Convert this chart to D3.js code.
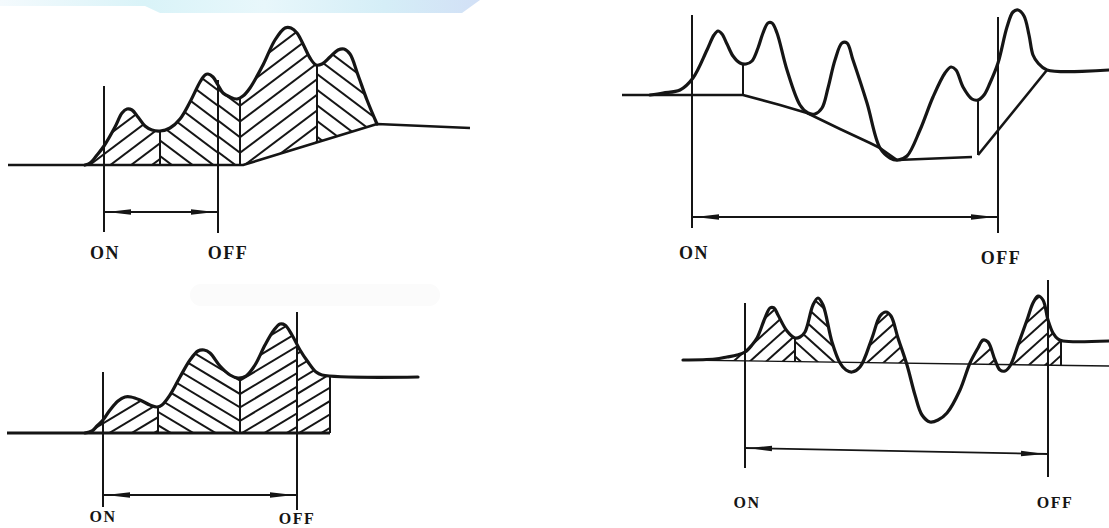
<!DOCTYPE html>
<html>
<head>
<meta charset="utf-8">
<script src="https://cdn.jsdelivr.net/npm/d3@7"></script>
<style>
    body { margin: 0; background: #fff; }
    svg { display: block; }
    .lbl { font-family: "Liberation Serif", "DejaVu Serif", serif; font-weight: bold; fill: #151515; }
</style>
</head>
<body>
<div id="chart"></div>
<script>
"use strict";
(function () {
    // t = time along the trace, v = signal height above the panel floor
    // panel 1: hatched peaks, baseline lifted at the end
    const p1Signal = [[85,0],[90,2],[97,10],[104,19],[115,38],[122,52],[127,56],[132,55],[138,48],[145,39],[152,35],[160,34],[170,37],[180,46],[190,63],[200,83],[205,90],[208,91],[213,88],[218,80],[223,72],[230,68],[237,66],[243,69],[250,77],[263,100],[275,125],[285,137],[291,137],[297,132],[304,119],[310,107],[316,100],[322,101],[330,108],[338,115],[344,116],[350,111],[358,90],[367,65],[377,41]]
    const p1Base = [[8,0],[243,0],[377,41],[470,37]]
    const p1Cuts = [160, 240, 317]
    const p1Gates = [104, 218]
    const p1Hatch = [[85,160,1],[160,218,-1],[218,240,-1],[240,317,1],[317,380,-1]]

    // panel 2: tangent skims, no hatching
    const p2Signal = [[50,0],[63,2],[80,5],[93,17],[107,45],[114,60],[118,64],[122,61],[127,51],[133,39],[140,32],[146,31],[152,34],[158,47],[163,62],[168,72],[172,72],[177,62],[187,25],[200,-10],[208,-18],[215,-19],[222,-13],[228,7],[235,35],[242,52],[247,52],[253,35],[267,-8],[280,-53],[290,-63],[298,-65],[307,-61],[320,-35],[333,-2],[345,22],[351,28],[356,25],[363,8],[372,-4],[378,-5],[384,0],[390,12],[398,32],[407,68],[413,83],[418,85],[424,79],[429,60],[433,40],[438,32],[447,25],[509,25]]
    const p2Base = [[22,0],[143,0],[180,-10],[207,-18],[240,-34],[270,-48],[280,-53],[297,-65],[372,-62]]
    const p2Skim = [[378,-60],[447,25]]
    const p2Cuts = [143, 378]
    const p2Gates = [92, 398]
    const p2Hatch = []

    // panel 3: flat baseline, area closed after OFF
    const p3Signal = [[85,0],[92,2],[97,7],[103,13],[110,23],[118,32],[125,36],[131,36],[140,33],[150,28],[157,26],[162,28],[170,38],[180,56],[190,73],[198,82],[204,83],[210,80],[220,67],[230,58],[238,55],[246,57],[255,68],[265,88],[274,103],[280,109],[285,108],[292,98],[300,83],[308,71],[316,61],[322,58],[418,56]]
    const p3Base = [[7,0],[330,0]]
    const p3Cuts = [158, 240, 330]
    const p3Gates = [103, 297]
    const p3Hatch = [[85,158,1],[158,240,-1],[240,297,1],[297,330,1]]

    // panel 4: negative dips left unshaded
    const p4Signal = [[83,0],[115,1],[127,3],[137,5],[145,8],[152,15],[157,22],[165,42],[170,52],[174,52],[178,45],[187,29],[195,22],[200,23],[205,28],[213,55],[218,62],[223,55],[232,18],[240,-3],[246,-10],[252,-12],[260,-7],[272,22],[280,44],[286,48],[291,44],[298,22],[307,-5],[315,-35],[322,-55],[330,-62],[338,-60],[347,-53],[360,-30],[370,-3],[378,12],[383,20],[388,18],[395,0],[400,-10],[405,-11],[410,-6],[418,15],[427,40],[433,57],[438,64],[443,60],[448,40],[453,27],[458,21],[463,19],[509,19]]
    const p4Base = [[83,0],[509,-6]]
    const p4Cuts = [195, 461]
    const p4Gates = [145, 448]
    const p4Hatch = [[127,195,1],[195,240,-1],[262,307,1],[370,396,1],[410,448,1],[448,461,1]]

    const gateLabels = ["ON", "OFF"]

    const panels = [
        { id: "p1", left: 0, floor: 165, signal: p1Signal, bases: [p1Base], baseW: 2.6, cuts: p1Cuts, gates: p1Gates, hatch: p1Hatch,
          angle: 37, gap: 12.5, gateTop: [86, 80], gateBot: [232, 233], arrowY: [212, 212], labelX: [105, 228], labelY: [259, 259], font: 18 },
        { id: "p2", left: 600, floor: 95, signal: p2Signal, bases: [p2Base, p2Skim], baseW: 2.6, cuts: p2Cuts, gates: p2Gates, hatch: p2Hatch,
          angle: 37, gap: 12, gateTop: [15, 17], gateBot: [228, 233], arrowY: [217, 217], labelX: [694, 1001], labelY: [259, 264], font: 18 },
        { id: "p3", left: 0, floor: 433, signal: p3Signal, bases: [p3Base], baseW: 3, cuts: p3Cuts, gates: p3Gates, hatch: p3Hatch,
          angle: 31, gap: 11.5, gateTop: [372, 312], gateBot: [507, 510], arrowY: [495, 495], labelX: [103, 297], labelY: [522, 524], font: 16 },
        { id: "p4", left: 600, floor: 360, signal: p4Signal, bases: [p4Base], baseW: 1.4, cuts: p4Cuts, gates: p4Gates, hatch: p4Hatch,
          angle: 42, gap: 11, gateTop: [303, 280], gateBot: [468, 477], arrowY: [448, 454], labelX: [747, 1055], labelY: [508, 508], font: 16 }
    ]

    const ink = "#151515"
    const svg = d3.select("#chart").append("svg")
        .attr("width", 1109)
        .attr("height", 528)
    const defs = svg.append("defs")

    // faint scan watermark along the top edge
    const grad = defs.append("linearGradient").attr("id", "wm")
    grad.append("stop").attr("offset", "0").attr("stop-color", "#f4fafd")
    grad.append("stop").attr("offset", "0.3").attr("stop-color", "#d9f3f8")
    grad.append("stop").attr("offset", "0.55").attr("stop-color", "#e8f7fb")
    grad.append("stop").attr("offset", "0.8").attr("stop-color", "#d5eef7")
    grad.append("stop").attr("offset", "1").attr("stop-color", "#d2e0f6")
    svg.append("path")
        .attr("d", "M0,0L480,0L462,13L160,13L145,6L0,6Z")
        .attr("fill", "url(#wm)")
    svg.append("rect")
        .attr("x", 190).attr("y", 284).attr("width", 250).attr("height", 22).attr("rx", 11)
        .attr("fill", "#fbfbfb")

    function yOnPath(node, x) {
        let lo = 0, hi = node.getTotalLength()
        for (let i = 0; i < 28; i++) {
            const mid = (lo + hi) / 2
            if (node.getPointAtLength(mid).x < x) lo = mid; else hi = mid
        }
        return node.getPointAtLength(lo).y
    }

    panels.forEach(p => {
        const x = d3.scaleLinear().domain([0, 509]).range([p.left, p.left + 509])
        const y = d3.scaleLinear().domain([0, 200]).range([p.floor, p.floor - 200])
        const g = svg.append("g")

        const smooth = d3.line().x(d => x(d[0])).y(d => y(d[1])).curve(d3.curveCatmullRom.alpha(0.5))
        const straight = d3.line().x(d => x(d[0])).y(d => y(d[1]))

        // baselines first, hatch above, trace on top
        const baseNodes = p.bases.map(b => {
            const node = g.append("path")
                .attr("d", straight(b))
                .attr("fill", "none")
                .attr("stroke", ink)
                .attr("stroke-width", p.baseW)
                .attr("stroke-linejoin", "round")
                .node()
            return { node: node, x0: x(b[0][0]), x1: x(b[b.length - 1][0]) }
        })
        const baseAt = function (px) {
            let hit = baseNodes.find(b => px >= b.x0 - 0.5 && px <= b.x1 + 0.5)
            if (!hit) hit = px < baseNodes[0].x0 ? baseNodes[0] : baseNodes[baseNodes.length - 1]
            return yOnPath(hit.node, Math.min(Math.max(px, hit.x0), hit.x1))
        }

        const sigD = smooth(p.signal)
        const s0 = x(p.signal[0][0]), s1 = x(p.signal[p.signal.length - 1][0])
        const under = defs.append("clipPath").attr("id", p.id + "-under")
        under.append("path").attr("d", sigD + "L" + s1 + "," + (p.floor + 300) + "L" + s0 + "," + (p.floor + 300) + "Z")

        const rad = p.angle * Math.PI / 180
        p.hatch.forEach((h, i) => {
            const x0 = x(h[0]), x1 = x(h[1])
            const pts = [[x0, p.floor - 260], [x1, p.floor - 260]]
            for (let k = 0; k <= 16; k++) {
                const px = x1 - (x1 - x0) * k / 16
                pts.push([px, baseAt(px)])
            }
            defs.append("clipPath").attr("id", p.id + "-r" + i)
                .append("path").attr("d", "M" + pts.join("L") + "Z")

            const k = Math.tan(rad) * h[2]
            const w = x1 - x0
            const dy = p.gap / Math.cos(rad)
            const yTop = p.floor - 200, yBot = p.floor + 20
            const cs = d3.range(yTop + Math.min(0, k * w), yBot + Math.max(0, k * w), dy)
            g.append("g").attr("clip-path", "url(#" + p.id + "-r" + i + ")")
                .append("g").attr("clip-path", "url(#" + p.id + "-under)")
                .selectAll("line")
                .data(cs)
                .join("line")
                .attr("x1", x0 - 2).attr("y1", c => c + k * 2)
                .attr("x2", x1 + 2).attr("y2", c => c - k * (w + 2))
                .attr("stroke", ink)
                .attr("stroke-width", 2)
        })

        const sigNode = g.append("path")
            .attr("d", sigD)
            .attr("fill", "none")
            .attr("stroke", ink)
            .attr("stroke-width", 3.2)
            .attr("stroke-linejoin", "round")
            .attr("stroke-linecap", "round")
            .node()

        // drop lines between neighbouring peaks
        g.selectAll(".cut")
            .data(p.cuts)
            .join("line")
            .attr("class", "cut")
            .attr("x1", d => x(d)).attr("x2", d => x(d))
            .attr("y1", d => yOnPath(sigNode, x(d)))
            .attr("y2", d => baseAt(x(d)))
            .attr("stroke", ink)
            .attr("stroke-width", 2)

        // integrator ON / OFF markers
        g.selectAll(".gate")
            .data(p.gates)
            .join("line")
            .attr("class", "gate")
            .attr("x1", d => x(d)).attr("x2", d => x(d))
            .attr("y1", (d, i) => p.gateTop[i])
            .attr("y2", (d, i) => p.gateBot[i])
            .attr("stroke", ink)
            .attr("stroke-width", 2)

        const ax0 = x(p.gates[0]), ax1 = x(p.gates[1])
        g.append("line")
            .attr("x1", ax0).attr("y1", p.arrowY[0])
            .attr("x2", ax1).attr("y2", p.arrowY[1])
            .attr("stroke", ink)
            .attr("stroke-width", 1.8)
        const len = Math.hypot(ax1 - ax0, p.arrowY[1] - p.arrowY[0])
        const ux = (ax1 - ax0) / len, uy = (p.arrowY[1] - p.arrowY[0]) / len
        const heads = [
            { tx: ax0 + ux * 3, ty: p.arrowY[0] + uy * 3, dir: 1 },
            { tx: ax1 - ux * 3, ty: p.arrowY[1] - uy * 3, dir: -1 }
        ]
        g.selectAll(".head")
            .data(heads)
            .join("path")
            .attr("class", "head")
            .attr("d", d => {
                const bx = d.tx + d.dir * ux * 24, by = d.ty + d.dir * uy * 24
                return "M" + d.tx + "," + d.ty + "L" + (bx - uy * 2.8) + "," + (by + ux * 2.8) +
                    "L" + (bx + uy * 2.8) + "," + (by - ux * 2.8) + "Z"
            })
            .attr("fill", ink)

        g.selectAll(".lbl")
            .data(gateLabels)
            .join("text")
            .attr("class", "lbl")
            .attr("x", (d, i) => p.labelX[i])
            .attr("y", (d, i) => p.labelY[i])
            .attr("text-anchor", "middle")
            .style("font-size", p.font + "px")
            .style("letter-spacing", "1.5px")
            .text(d => d)
    })
})()
</script>
</body>
</html>
